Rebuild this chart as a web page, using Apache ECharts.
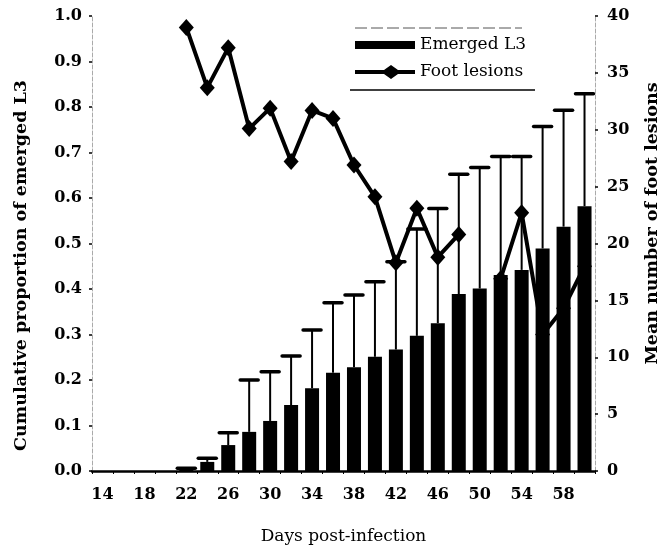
<!DOCTYPE html>
<html>
<head>
<meta charset="utf-8">
<script src="https://cdn.jsdelivr.net/npm/echarts@6/dist/echarts.min.js"></script>
<style>
  html, body { margin: 0; padding: 0; background: #fff; }
  #chart { width: 663px; height: 552px; }
</style>
</head>
<body>
<div id="chart"></div>
<script>
// Days post-infection (categories, every 2 days)
const days = [14, 16, 18, 20, 22, 24, 26, 28, 30, 32, 34, 36, 38, 40, 42, 44, 46, 48, 50, 52, 54, 56, 58, 60];
// Cumulative proportion of emerged L3 (bar heights)
const emergedL3 = [0, 0, 0, 0, 0.003, 0.02, 0.057, 0.086, 0.11, 0.145, 0.182, 0.216, 0.228, 0.251, 0.267, 0.297, 0.325, 0.389, 0.401, 0.431, 0.442, 0.489, 0.537, 0.582];
// Upper end of the error bar for each emerged L3 bar
const emergedUpper = [null, null, null, null, 0.006, 0.028, 0.084, 0.2, 0.218, 0.253, 0.31, 0.37, 0.387, 0.416, 0.46, 0.532, 0.577, 0.652, 0.667, 0.691, 0.691, 0.757, 0.793, 0.829];
// Mean number of foot lesions (right axis); no value recorded on day 50
const footLesions = [null, null, null, null, 39.0, 33.7, 37.2, 30.1, 31.9, 27.2, 31.7, 31.0, 26.9, 24.1, 18.3, 23.1, 18.8, 20.8, null, 16.9, 22.7, 12.0, 14.3, 18.0];
// Axis tick values
const leftTicks = [0, 0.1, 0.2, 0.3, 0.4, 0.5, 0.6, 0.7, 0.8, 0.9, 1.0];
const rightTicks = [0, 5, 10, 15, 20, 25, 30, 35, 40];

const FONT = 'DejaVu Serif';
const errorData = emergedUpper
  .map((u, i) => (u == null ? null : [i, emergedL3[i], u]))
  .filter(d => d !== null);

// Legend swatches: a flat bar, and a thick line with a diamond on it
const barIcon = 'path://M0,0L0.01,0L0.01,0.01Z M0,3H60V11H0Z M0,14L0.01,14L0.01,13.99Z';
const lineIcon = 'path://M0,5H29L36,0L43,5H60V9H43L36,14L29,9H0Z';

const chart = echarts.init(document.getElementById('chart'), null, { renderer: 'canvas' });

chart.setOption({
  animation: false,
  backgroundColor: '#fff',
  grid: { left: 92, right: 68, top: 16, bottom: 81, containLabel: false, outerBoundsMode: 'none' },
  legend: {
    orient: 'vertical',
    left: 350,
    top: 31,
    itemWidth: 60,
    itemHeight: 14,
    itemGap: 9,
    textStyle: { fontFamily: FONT, fontSize: 17, color: '#000', lineHeight: 18 },
    data: [
      { name: 'Emerged L3', icon: barIcon },
      { name: 'Foot lesions', icon: lineIcon }
    ]
  },
  xAxis: {
    type: 'category',
    data: days.map(String),
    boundaryGap: true,
    name: 'Days post-infection',
    nameLocation: 'middle',
    nameGap: 57,
    nameTextStyle: { fontFamily: FONT, fontSize: 17, color: '#000' },
    axisLine: { lineStyle: { color: '#000', width: 2.5 } },
    axisTick: { show: true, length: 3, interval: 0, lineStyle: { color: '#000', width: 1 } },
    axisLabel: { interval: 1, margin: 16, fontFamily: FONT, fontSize: 16, fontWeight: 'bold', color: '#000' },
    splitLine: { show: false }
  },
  yAxis: [
    {
      type: 'value',
      min: leftTicks[0],
      max: leftTicks[leftTicks.length - 1],
      interval: 0.1,
      name: 'Cumulative proportion of emerged L3',
      nameLocation: 'middle',
      nameRotate: 90,
      nameGap: 62,
      nameTextStyle: { fontFamily: FONT, fontSize: 17.5, fontWeight: 'bold', color: '#000', padding: [0, 44, 0, 0] },
      axisLine: { show: true, lineStyle: { color: '#aaa', width: 1, type: 'dashed' } },
      axisTick: { show: true, length: 3, lineStyle: { color: '#000', width: 1.5 } },
      axisLabel: { margin: 10, fontFamily: FONT, fontSize: 16, fontWeight: 'bold', color: '#000',
                   formatter: v => v.toFixed(1) },
      splitLine: { show: false }
    },
    {
      type: 'value',
      min: rightTicks[0],
      max: rightTicks[rightTicks.length - 1],
      interval: 5,
      position: 'right',
      name: 'Mean number of foot lesions',
      nameLocation: 'middle',
      nameRotate: 90,
      nameGap: 48,
      nameTextStyle: { fontFamily: FONT, fontSize: 17.5, fontWeight: 'bold', color: '#000', padding: [0, 0, 0, 40] },
      axisLine: { show: true, lineStyle: { color: '#aaa', width: 1, type: 'dashed' } },
      axisTick: { show: true, length: 3, lineStyle: { color: '#000', width: 1.5 } },
      axisLabel: { margin: 12, fontFamily: FONT, fontSize: 16, fontWeight: 'bold', color: '#000' },
      splitLine: { show: false }
    }
  ],
  graphic: [
    { type: 'line', shape: { x1: 355, y1: 28, x2: 522, y2: 28 },
      style: { stroke: '#555', lineWidth: 1, lineDash: [12, 4] }, z: 10 },
    { type: 'line', shape: { x1: 350, y1: 90, x2: 535, y2: 90 },
      style: { stroke: '#000', lineWidth: 1.5 }, z: 10 }
  ],
  series: [
    {
      name: 'Emerged L3',
      type: 'bar',
      yAxisIndex: 0,
      data: emergedL3,
      barWidth: 14,
      itemStyle: { color: '#000' },
      z: 2
    },
    {
      name: 'Emerged L3 error',
      type: 'custom',
      yAxisIndex: 0,
      data: errorData,
      z: 3,
      renderItem: function (params, api) {
        const idx = api.value(0);
        const lo = api.coord([idx, api.value(1)]);
        const hi = api.coord([idx, api.value(2)]);
        const half = 9;
        return {
          type: 'group',
          children: [
            { type: 'line', shape: { x1: lo[0], y1: lo[1], x2: hi[0], y2: hi[1] },
              style: { stroke: '#000', lineWidth: 2 } },
            { type: 'line', shape: { x1: hi[0] - half, y1: hi[1], x2: hi[0] + half, y2: hi[1] },
              style: { stroke: '#000', lineWidth: 3.5, lineCap: 'round' } }
          ]
        };
      },
      tooltip: { show: false }
    },
    {
      name: 'Foot lesions',
      type: 'line',
      yAxisIndex: 1,
      data: footLesions,
      connectNulls: false,
      symbol: 'diamond',
      symbolSize: [15, 17],
      showSymbol: true,
      showAllSymbol: true,
      lineStyle: { color: '#000', width: 4 },
      itemStyle: { color: '#000' },
      z: 4
    }
  ]
});
</script>
</body>
</html>
